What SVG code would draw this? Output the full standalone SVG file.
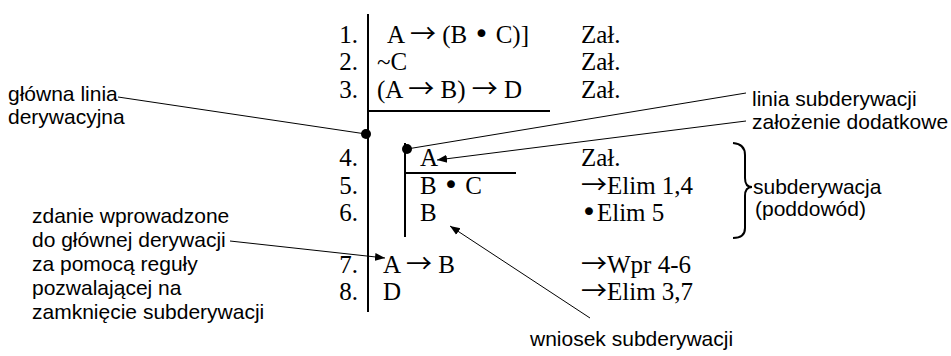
<svg xmlns="http://www.w3.org/2000/svg" width="951" height="356" viewBox="0 0 951 356">
<style>
.t{font-family:"Liberation Serif","Times New Roman",serif;font-size:25px;fill:#000}
.n{font-family:"Liberation Serif","Times New Roman",serif;font-size:25px;fill:#000;text-anchor:end}
.ar{font-family:"Noto Sans CJK SC","DejaVu Serif",serif;font-size:26px}
.bu{font-family:"DejaVu Sans",sans-serif;font-size:27px}
.s{font-family:"Liberation Sans",Arial,sans-serif;font-size:21px;fill:#000}
.bar{stroke:#000;stroke-width:2;fill:none}
.c{stroke:#000;stroke-width:1;fill:none}
</style>
<defs>
<marker id="ah" viewBox="0 0 10 10" refX="10" refY="5" markerWidth="10" markerHeight="10" markerUnits="userSpaceOnUse" orient="auto">
<path d="M0,1 L10,5 L0,9 Z" fill="#000"/>
</marker>
</defs>
<g id="proof">
<line class="bar" x1="368" y1="14" x2="368" y2="312"/>
<line class="bar" x1="368" y1="111" x2="550" y2="111"/>
<circle cx="366" cy="134" r="5" fill="#000"/>
<line class="bar" x1="405" y1="143" x2="405" y2="237"/>
<line class="bar" x1="405" y1="173" x2="516" y2="173"/>
<circle cx="407" cy="149" r="5" fill="#000"/>
</g>
<g id="row1"><text class="n" x="358" y="43">1.</text><text class="t" x="387" y="43">A <tspan class="ar">→</tspan> (B <tspan class="bu">•</tspan> C)]</text><text class="t" x="581" y="43">Zał.</text></g>
<g id="row2"><text class="n" x="358" y="70">2.</text><text class="t" x="377" y="70">~C</text><text class="t" x="581" y="70">Zał.</text></g>
<g id="row3"><text class="n" x="358" y="98">3.</text><text class="t" x="377" y="98">(A <tspan class="ar">→</tspan> B) <tspan class="ar">→</tspan> D</text><text class="t" x="581" y="98">Zał.</text></g>
<g id="row4"><text class="n" x="358" y="166">4.</text><text class="t" x="420" y="166">A</text><text class="t" x="581" y="166">Zał.</text></g>
<g id="row5"><text class="n" x="358" y="194">5.</text><text class="t" x="420" y="194">B <tspan class="bu">•</tspan> C</text><text class="t" x="581" y="194"><tspan class="ar">→</tspan>Elim 1,4</text></g>
<g id="row6"><text class="n" x="358" y="221">6.</text><text class="t" x="420" y="221">B</text><text class="t" x="581" y="221"><tspan class="bu">•</tspan>Elim 5</text></g>
<g id="row7"><text class="n" x="358" y="273">7.</text><text class="t" x="383" y="273">A <tspan class="ar">→</tspan> B</text><text class="t" x="581" y="273"><tspan class="ar">→</tspan>Wpr 4-6</text></g>
<g id="row8"><text class="n" x="358" y="300">8.</text><text class="t" x="383" y="300">D</text><text class="t" x="581" y="300"><tspan class="ar">→</tspan>Elim 3,7</text></g>
<g id="label-glowna"><text class="s" x="8" y="101">główna linia</text><text class="s" x="8" y="124">derywacyjna</text></g>
<g id="label-linia"><text class="s" x="752" y="106">linia subderywacji</text></g>
<g id="label-zalozenie"><text class="s" x="752" y="129">założenie dodatkowe</text></g>
<g id="label-subder"><text class="s" x="753" y="194">subderywacja</text><text class="s" x="755" y="216">(poddowód)</text>
<path class="bar" d="M733,143 Q745,144 745,155 L745,178 Q745,187 752,187 Q745,187 745,196 L745,228 Q745,238 733,238"/></g>
<g id="label-zdanie"><text class="s" x="32" y="223">zdanie wprowadzone</text><text class="s" x="32" y="247">do głównej derywacji</text><text class="s" x="32" y="271">za pomocą reguły</text><text class="s" x="32" y="295">pozwalającej na</text><text class="s" x="32" y="319">zamknięcie subderywacji</text></g>
<g id="label-wniosek"><text class="s" x="530" y="346">wniosek subderywacji</text></g>
<g id="connectors">
<line class="c" x1="118" y1="97" x2="366" y2="134"/>
<line class="c" x1="746" y1="93" x2="407" y2="149"/>
<line class="c" x1="746" y1="121" x2="437" y2="160" marker-end="url(#ah)"/>
<line class="c" x1="230" y1="241" x2="385" y2="258" marker-end="url(#ah)"/>
<line class="c" x1="590" y1="318" x2="450" y2="226" marker-end="url(#ah)"/>
</g>
</svg>
